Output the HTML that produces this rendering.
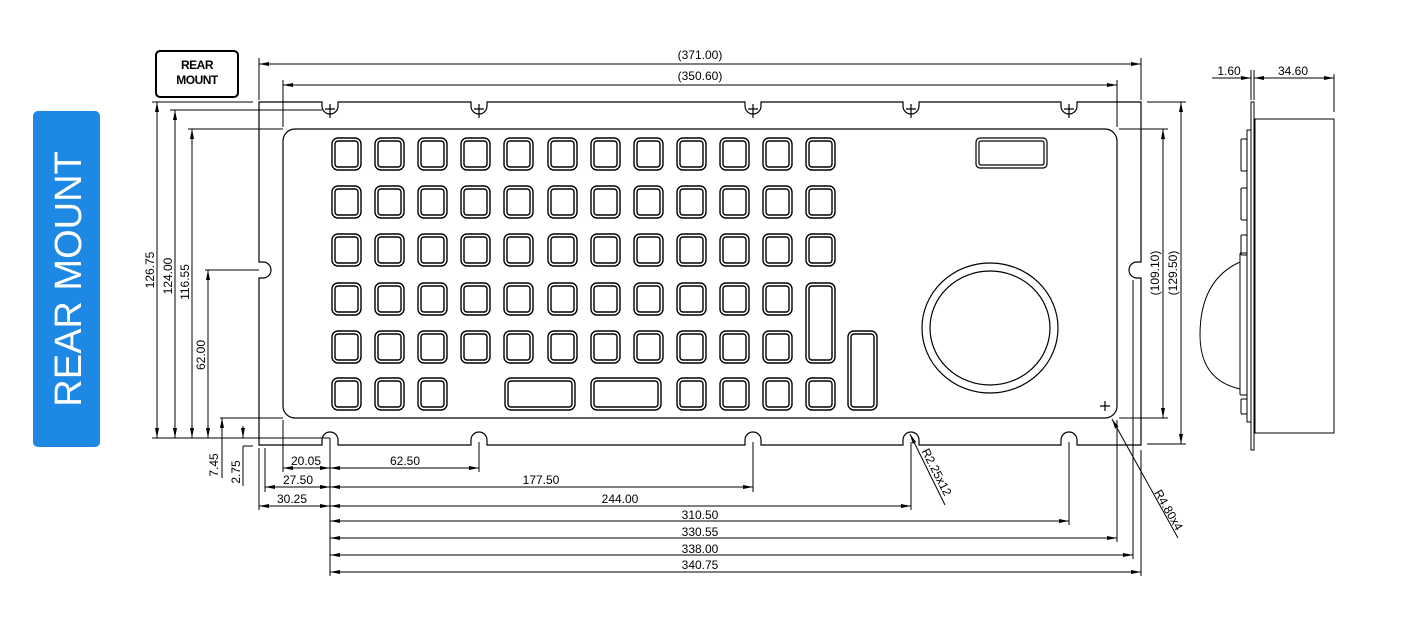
<!DOCTYPE html>
<html><head><meta charset="utf-8"><style>
html,body{margin:0;padding:0;background:#fff;}
svg{display:block;font-family:"Liberation Sans",sans-serif;}
</style></head><body>
<svg id="s" width="1427" height="631" viewBox="0 0 1427 631" xmlns="http://www.w3.org/2000/svg">
<defs>
<marker id="a" viewBox="0 0 10 6" refX="10" refY="3" markerWidth="10" markerHeight="6" orient="auto-start-reverse" markerUnits="userSpaceOnUse"><path d="M0,1 L10,3 L0,5 Z" fill="#000"/></marker>
</defs>
<rect x="33" y="111" width="67" height="336" rx="5" fill="#1e88e5"/>
<text transform="translate(81,279) rotate(-90)" text-anchor="middle" font-size="38" fill="#fff">REAR MOUNT</text>
<rect x="156" y="51" width="82" height="46" rx="4" fill="none" stroke="#000" stroke-width="2"/>
<text x="197" y="69" text-anchor="middle" font-size="12" font-weight="bold" letter-spacing="-0.5">REAR</text>
<text x="197" y="84" text-anchor="middle" font-size="12" font-weight="bold" letter-spacing="-0.5">MOUNT</text>
<g fill="none" stroke="#000" stroke-width="1.2">
<path d="M259,102 H322 V106 A8,8 0 0 0 338,106 V102 H471 V106 A8,8 0 0 0 487,106 V102 H745 V106 A8,8 0 0 0 761,106 V102 H903 V106 A8,8 0 0 0 919,106 V102 H1061 V106 A8,8 0 0 0 1077,106 V102 H1141 V262 H1137 A8,8 0 0 0 1137,278 H1141 V445 H1077 V440 A8,8 0 0 0 1061,440 V445 H919 V440 A8,8 0 0 0 903,440 V445 H761 V440 A8,8 0 0 0 745,440 V445 H487 V440 A8,8 0 0 0 471,440 V445 H338 V440 A8,8 0 0 0 322,440 V445 H259 V278 H263 A8,8 0 0 0 263,262 H259 Z"/>
<rect x="283" y="129" width="834" height="289" rx="12"/>
<rect x="976" y="138" width="71" height="30" rx="4"/>
<rect x="979" y="141" width="65" height="24" rx="2"/>
<ellipse cx="990" cy="328" rx="68" ry="65"/>
<ellipse cx="990" cy="328" rx="60" ry="57"/>
<path d="M1100,406 h10 M1105,401 v10"/>
<g id="keys" stroke-width="1.4"></g>
<path d="M330,104 v14 M479,104 v14 M753,104 v14 M911,104 v14 M1069,104 v14 M325,109 h10 M474,109 h10 M748,109 h10 M906,109 h10 M1064,109 h10"/>
</g>
<g fill="none" stroke="#000" stroke-width="1">
<line x1="259" y1="58" x2="259" y2="100"/><line x1="1141" y1="58" x2="1141" y2="100"/>
<line x1="259" y1="64" x2="1141" y2="64" marker-start="url(#a)" marker-end="url(#a)"/>
<line x1="283" y1="80" x2="283" y2="127"/><line x1="1117" y1="80" x2="1117" y2="127"/>
<line x1="283" y1="85" x2="1117" y2="85" marker-start="url(#a)" marker-end="url(#a)"/>
<line x1="152" y1="102" x2="253" y2="102"/>
<line x1="170" y1="110" x2="322" y2="110"/>
<line x1="188" y1="129" x2="283" y2="129"/>
<line x1="205" y1="270" x2="259" y2="270"/>
<line x1="220" y1="418" x2="283" y2="418"/>
<line x1="152" y1="438" x2="330" y2="438"/>
<line x1="243" y1="446" x2="253" y2="446"/>
<line x1="157" y1="102" x2="157" y2="438" marker-start="url(#a)" marker-end="url(#a)"/>
<line x1="175" y1="110" x2="175" y2="438" marker-start="url(#a)" marker-end="url(#a)"/>
<line x1="192" y1="129" x2="192" y2="438" marker-start="url(#a)" marker-end="url(#a)"/>
<line x1="208" y1="270" x2="208" y2="438" marker-start="url(#a)" marker-end="url(#a)"/>
<line x1="222" y1="418" x2="222" y2="478" marker-start="url(#a)"/>
<line x1="243" y1="426" x2="243" y2="438" marker-end="url(#a)"/>
<line x1="243" y1="446" x2="243" y2="486"/>
<line x1="330" y1="438" x2="330" y2="576"/>
<line x1="283" y1="420" x2="283" y2="472"/>
<line x1="265" y1="448" x2="265" y2="492"/>
<line x1="259" y1="448" x2="259" y2="510"/>
<line x1="479" y1="442" x2="479" y2="472"/>
<line x1="753" y1="442" x2="753" y2="492"/>
<line x1="911" y1="442" x2="911" y2="510"/>
<line x1="1069" y1="442" x2="1069" y2="525"/>
<line x1="1117" y1="420" x2="1117" y2="542"/>
<line x1="1133" y1="280" x2="1133" y2="559"/>
<line x1="1141" y1="450" x2="1141" y2="576"/>
<line x1="283" y1="468" x2="330" y2="468" marker-start="url(#a)" marker-end="url(#a)"/>
<line x1="330" y1="468" x2="479" y2="468" marker-start="url(#a)" marker-end="url(#a)"/>
<line x1="265" y1="487" x2="330" y2="487" marker-start="url(#a)" marker-end="url(#a)"/>
<line x1="330" y1="487" x2="753" y2="487" marker-start="url(#a)" marker-end="url(#a)"/>
<line x1="259" y1="506" x2="330" y2="506" marker-start="url(#a)" marker-end="url(#a)"/>
<line x1="330" y1="506" x2="911" y2="506" marker-start="url(#a)" marker-end="url(#a)"/>
<line x1="330" y1="521" x2="1069" y2="521" marker-start="url(#a)" marker-end="url(#a)"/>
<line x1="330" y1="538" x2="1117" y2="538" marker-start="url(#a)" marker-end="url(#a)"/>
<line x1="330" y1="555" x2="1133" y2="555" marker-start="url(#a)" marker-end="url(#a)"/>
<line x1="330" y1="572" x2="1141" y2="572" marker-start="url(#a)" marker-end="url(#a)"/>
<line x1="945" y1="505" x2="910" y2="434" marker-end="url(#a)"/>
<line x1="1178" y1="538" x2="1112" y2="419" marker-end="url(#a)"/>
<line x1="1119" y1="129" x2="1168" y2="129"/><line x1="1119" y1="418" x2="1168" y2="418"/>
<line x1="1147" y1="102" x2="1186" y2="102"/><line x1="1147" y1="444" x2="1186" y2="444"/>
<line x1="1163" y1="129" x2="1163" y2="418" marker-start="url(#a)" marker-end="url(#a)"/>
<line x1="1181" y1="102" x2="1181" y2="444" marker-start="url(#a)" marker-end="url(#a)"/>
<rect x="1251" y="102" width="3" height="348"/>
<rect x="1255" y="119" width="79" height="314"/>
<rect x="1247" y="130" width="4" height="292"/>
<rect x="1241" y="139" width="6" height="32" rx="1"/>
<rect x="1241" y="188" width="6" height="32" rx="1"/>
<rect x="1241" y="235" width="6" height="20" rx="1"/>
<rect x="1240" y="253" width="7" height="142" rx="1"/>
<rect x="1241" y="399" width="6" height="15" rx="1"/>
<path d="M1240,262 Q1200,280 1200,335 Q1200,380 1240,389"/>
<line x1="1251" y1="70" x2="1251" y2="100"/><line x1="1254" y1="70" x2="1254" y2="100"/><line x1="1334" y1="74" x2="1334" y2="112"/>
<line x1="1212" y1="78" x2="1251" y2="78" marker-end="url(#a)"/>
<line x1="1254" y1="78" x2="1334" y2="78" marker-start="url(#a)" marker-end="url(#a)"/>
</g>
<g font-size="12" fill="#000" text-anchor="middle">
<text x="700" y="59">(371.00)</text>
<text x="700" y="80">(350.60)</text>
<text x="306" y="465">20.05</text>
<text x="405" y="465">62.50</text>
<text x="298" y="484">27.50</text>
<text x="541" y="484">177.50</text>
<text x="292" y="503">30.25</text>
<text x="620" y="503">244.00</text>
<text x="700" y="519">310.50</text>
<text x="700" y="536">330.55</text>
<text x="700" y="553">338.00</text>
<text x="700" y="569">340.75</text>
<text x="1229" y="75">1.60</text>
<text x="1293" y="75">34.60</text>
<text transform="translate(154,270) rotate(-90)">126.75</text>
<text transform="translate(172,276) rotate(-90)">124.00</text>
<text transform="translate(189,282) rotate(-90)">116.55</text>
<text transform="translate(205,355) rotate(-90)">62.00</text>
<text transform="translate(218,465) rotate(-90)">7.45</text>
<text transform="translate(240,472) rotate(-90)">2.75</text>
<text transform="translate(1159,273) rotate(-90)">(109.10)</text>
<text transform="translate(1177,273) rotate(-90)">(129.50)</text>
<text transform="translate(933,474) rotate(63)">R2.25x12</text>
<text transform="translate(1165,512) rotate(60)">R4.80x4</text>
</g>
</svg>
<script>
var g=document.getElementById('keys'),ns='http://www.w3.org/2000/svg';
function k(x,y,w,h){var r=document.createElementNS(ns,'rect');r.setAttribute('x',x);r.setAttribute('y',y);r.setAttribute('width',w);r.setAttribute('height',h);r.setAttribute('rx',6);g.appendChild(r);
var q=document.createElementNS(ns,'rect');q.setAttribute('x',x+3);q.setAttribute('y',y+3);q.setAttribute('width',w-6);q.setAttribute('height',h-6);q.setAttribute('rx',3);g.appendChild(q);}
var cx=[332,375,418,461,504,548,591,634,677,720,763,806],ry=[138,186,234,283,331,378];
for(var r=0;r<5;r++)for(var c=0;c<12;c++){if(r>=3&&c==11)continue;k(cx[c],ry[r],29,32);}
k(806,283,29,80);k(848,331,29,79);
[0,1,2,8,9,10,11].forEach(function(c){k(cx[c],378,29,32);});
k(505,378,70,32);k(591,378,70,32);
</script>
</body></html>
